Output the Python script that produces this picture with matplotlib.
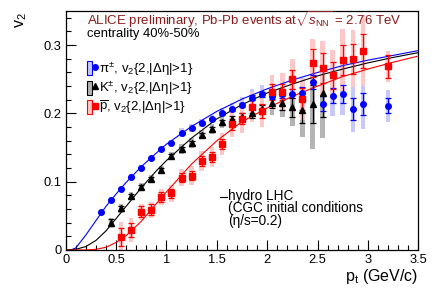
import numpy as np
import matplotlib as mpl
mpl.use('Agg')
import matplotlib.pyplot as plt
from matplotlib.patches import Rectangle
from matplotlib.lines import Line2D
from matplotlib.legend_handler import HandlerTuple

plt.rcParams['font.family'] = ['Liberation Sans', 'DejaVu Sans']
plt.rcParams['mathtext.fontset'] = 'custom'
plt.rcParams['mathtext.rm'] = 'Liberation Sans'
plt.rcParams['mathtext.it'] = 'Liberation Sans:italic'
plt.rcParams['mathtext.sf'] = 'Liberation Sans'

# pions
pi_pt = [0.35, 0.45, 0.55, 0.65, 0.75, 0.85, 0.95, 1.05, 1.15, 1.25, 1.35, 1.45, 1.55, 1.65,
         1.75, 1.85, 1.95, 2.05, 2.15, 2.25, 2.35, 2.45, 2.55, 2.65, 2.75, 2.85, 2.95, 3.2]
pi_v2 = [0.055, 0.073, 0.090, 0.107, 0.120, 0.134, 0.148, 0.157, 0.172, 0.179, 0.186, 0.192, 0.200, 0.206,
         0.212, 0.223, 0.228, 0.226, 0.229, 0.229, 0.230, 0.246, 0.214, 0.226, 0.228, 0.206, 0.214, 0.211]
pi_stat = [0.001, 0.001, 0.001, 0.001, 0.001, 0.001, 0.001, 0.001, 0.001, 0.001, 0.001, 0.001, 0.002, 0.002,
           0.003, 0.004, 0.004, 0.005, 0.006, 0.007, 0.009, 0.010, 0.011, 0.011, 0.013, 0.016, 0.016, 0.011]
pi_syst = [0.004, 0.004, 0.004, 0.004, 0.004, 0.004, 0.004, 0.004, 0.006, 0.006, 0.006, 0.006, 0.008, 0.010,
           0.012, 0.013, 0.014, 0.016, 0.018, 0.020, 0.022, 0.025, 0.032, 0.030, 0.030, 0.033, 0.037, 0.024]

# kaons
k_pt = [0.45, 0.55, 0.65, 0.75, 0.85, 0.95, 1.05, 1.15, 1.25, 1.35, 1.45, 1.55, 1.65,
        1.75, 1.85, 1.95, 2.05, 2.15, 2.25, 2.35, 2.45, 2.55]
k_v2 = [0.040, 0.061, 0.079, 0.092, 0.104, 0.117, 0.138, 0.148, 0.157, 0.169, 0.177, 0.187, 0.192,
        0.195, 0.200, 0.206, 0.216, 0.215, 0.209, 0.205, 0.214, 0.230]
k_stat = [0.005, 0.004, 0.003, 0.003, 0.003, 0.003, 0.003, 0.003, 0.003, 0.003, 0.003, 0.004, 0.004,
          0.005, 0.006, 0.007, 0.008, 0.010, 0.014, 0.019, 0.028, 0.035]
k_syst = [0.007, 0.007, 0.006, 0.006, 0.006, 0.006, 0.006, 0.007, 0.007, 0.007, 0.007, 0.009, 0.010,
          0.012, 0.013, 0.015, 0.018, 0.020, 0.027, 0.039, 0.066, 0.066]

# anti-protons
p_pt = [0.55, 0.65, 0.75, 0.85, 0.95, 1.05, 1.15, 1.25, 1.35, 1.45, 1.55, 1.65,
        1.75, 1.85, 1.95, 2.05, 2.15, 2.25, 2.35, 2.45, 2.55, 2.65, 2.75, 2.85, 2.95, 3.2]
p_v2 = [0.019, 0.029, 0.056, 0.059, 0.078, 0.083, 0.106, 0.109, 0.130, 0.136, 0.155, 0.184,
        0.192, 0.210, 0.204, 0.231, 0.231, 0.250, 0.221, 0.274, 0.266, 0.256, 0.278, 0.280, 0.292, 0.269]
p_stat = [0.013, 0.010, 0.008, 0.008, 0.007, 0.007, 0.007, 0.007, 0.007, 0.007, 0.007, 0.008,
          0.008, 0.010, 0.010, 0.012, 0.012, 0.014, 0.016, 0.020, 0.022, 0.020, 0.022, 0.022, 0.025, 0.017]
p_syst = [0.022, 0.018, 0.012, 0.012, 0.012, 0.012, 0.013, 0.014, 0.015, 0.015, 0.016, 0.018,
          0.020, 0.022, 0.024, 0.026, 0.028, 0.030, 0.030, 0.035, 0.040, 0.037, 0.045, 0.042, 0.052, 0.023]

# hydro curves
hpi_x = [0.05, 0.10, 0.20, 0.30, 0.40, 0.50, 0.60, 0.75, 0.90, 1.00, 1.25, 1.50, 1.75, 2.00, 2.25, 2.50, 2.75, 3.00, 3.25, 3.50]
hpi_y = [0.0, 0.003, 0.022, 0.043, 0.064, 0.082, 0.099, 0.122, 0.142, 0.155, 0.181, 0.203, 0.221, 0.236, 0.249, 0.260, 0.270, 0.278, 0.285, 0.292]
hk_x = [0.00, 0.10, 0.20, 0.30, 0.40, 0.50, 0.60, 0.75, 0.90, 1.00, 1.25, 1.50, 1.75, 2.00, 2.25, 2.50, 2.75, 3.00, 3.25, 3.50]
hk_y = [0.0, 0.001, 0.005, 0.014, 0.028, 0.046, 0.064, 0.091, 0.116, 0.131, 0.164, 0.192, 0.213, 0.230, 0.243, 0.255, 0.265, 0.274, 0.282, 0.289]
hp_x = [0.00, 0.20, 0.30, 0.40, 0.50, 0.60, 0.75, 0.90, 1.00, 1.25, 1.50, 1.75, 2.00, 2.25, 2.50, 2.75, 3.00, 3.25, 3.50]
hp_y = [0.0, 0.0, 0.001, 0.004, 0.011, 0.021, 0.042, 0.068, 0.085, 0.126, 0.160, 0.188, 0.208, 0.225, 0.240, 0.254, 0.265, 0.275, 0.284]

W, H = 436, 295
fig = plt.figure(figsize=(W / 100, H / 100), dpi=100)
ax = fig.add_axes([65.7 / W, 1 - 250 / H, (418.3 - 65.7) / W, (250 - 11) / H])

species = [
    (pi_pt, pi_v2, pi_stat, pi_syst, '#0000ff', '#c8c8ff', 'o', 4.0, hpi_x, hpi_y),
    (k_pt, k_v2, k_stat, k_syst, '#000000', '#b4b4b4', '^', 4.0, hk_x, hk_y),
    (p_pt, p_v2, p_stat, p_syst, '#ff0000', '#ffc8c8', 's', 4.0, hp_x, hp_y),
]
for pt, v2, st, sy, col, fill, mk, ms, cx, cy in species:
    pt = np.array(pt); v2 = np.array(v2); sy = np.array(sy)
    ax.bar(pt, 2 * sy, bottom=v2 - sy, width=0.045, color=fill, edgecolor='none', zorder=1)
for pt, v2, st, sy, col, fill, mk, ms, cx, cy in species:
    ax.plot(cx, cy, color=col, lw=0.8, zorder=2)
for pt, v2, st, sy, col, fill, mk, ms, cx, cy in species:
    ax.errorbar(pt, v2, yerr=st, fmt=mk, color=col, ms=ms, mec=col, elinewidth=0.9,
                capsize=2.0, capthick=0.9, zorder=3)

ax.set_xlim(0, 3.5)
ax.set_ylim(0, 0.35)
ax.set_xticks(np.arange(0, 3.51, 0.5))
ax.set_xticks(np.arange(0, 3.51, 0.1), minor=True)
ax.set_yticks([0, 0.1, 0.2, 0.3])
ax.set_yticks(np.arange(0, 0.35, 0.02), minor=True)
ax.xaxis.set_major_formatter(mpl.ticker.FuncFormatter(lambda v, p: '%g' % v))
ax.yaxis.set_major_formatter(mpl.ticker.FuncFormatter(lambda v, p: '%g' % v))
ax.tick_params(which='both', direction='in', top=False, right=False, labelsize=9.3, width=0.8)
ax.tick_params(which='major', length=7, pad=3.2)
ax.tick_params(which='minor', length=3.5)
for s in ax.spines.values():
    s.set_linewidth(0.9)

def fx(px):
    return px / W

def fy(py):
    return 1 - py / H

fig.text(fx(87), fy(25), r'ALICE preliminary, Pb-Pb events at$\sqrt{s_{\mathrm{NN}}}$ = 2.76 TeV',
         color='#8b1a1a', fontsize=9.5, va='baseline', ha='left')
fig.text(fx(87), fy(37.5), 'centrality 40%-50%', fontsize=9.4, va='baseline', ha='left')

fig.text(fx(418), fy(281), r'p$_{\mathrm{t}}$ (GeV/c)', fontsize=11.5, ha='right', va='baseline')
fig.text(fx(21), fy(12), r'v$_{2}$', fontsize=11.5, ha='center', va='top', rotation=90)

# legend
handles = []
labels = [r'π$^{\pm}$, v$_{2}${2,|Δη|>1}',
          r'K$^{\pm}$, v$_{2}${2,|Δη|>1}',
          r'$\overline{\mathrm{p}}$, v$_{2}${2,|Δη|>1}']
for pt, v2, st, sy, col, fill, mk, ms, cx, cy in species:
    box = Rectangle((0, 0), 1, 1, facecolor=fill, edgecolor=col, lw=0.8)
    mline = Line2D([], [], ls='none', marker=mk, color=col, ms=ms)
    handles.append((box, mline))
ax.legend(handles, labels, handler_map={tuple: HandlerTuple(ndivide=None)},
          loc='upper left', bbox_to_anchor=(fx(86.5), fy(60)), bbox_transform=fig.transFigure,
          frameon=False, fontsize=9.5, handlelength=0.85, handleheight=1.25,
          handletextpad=0.12, labelspacing=0.15, borderpad=0, borderaxespad=0)

# hydro label
fig.add_artist(Line2D([fx(220), fx(227)], [fy(197), fy(197)], color='k', lw=0.8))
fig.text(fx(228), fy(225), 'hydro LHC\n(CGC initial conditions\n(η/s=0.2)', fontsize=9.8,
         ha='left', va='baseline', linespacing=0.88)

fig.savefig('out.png', dpi=100)
